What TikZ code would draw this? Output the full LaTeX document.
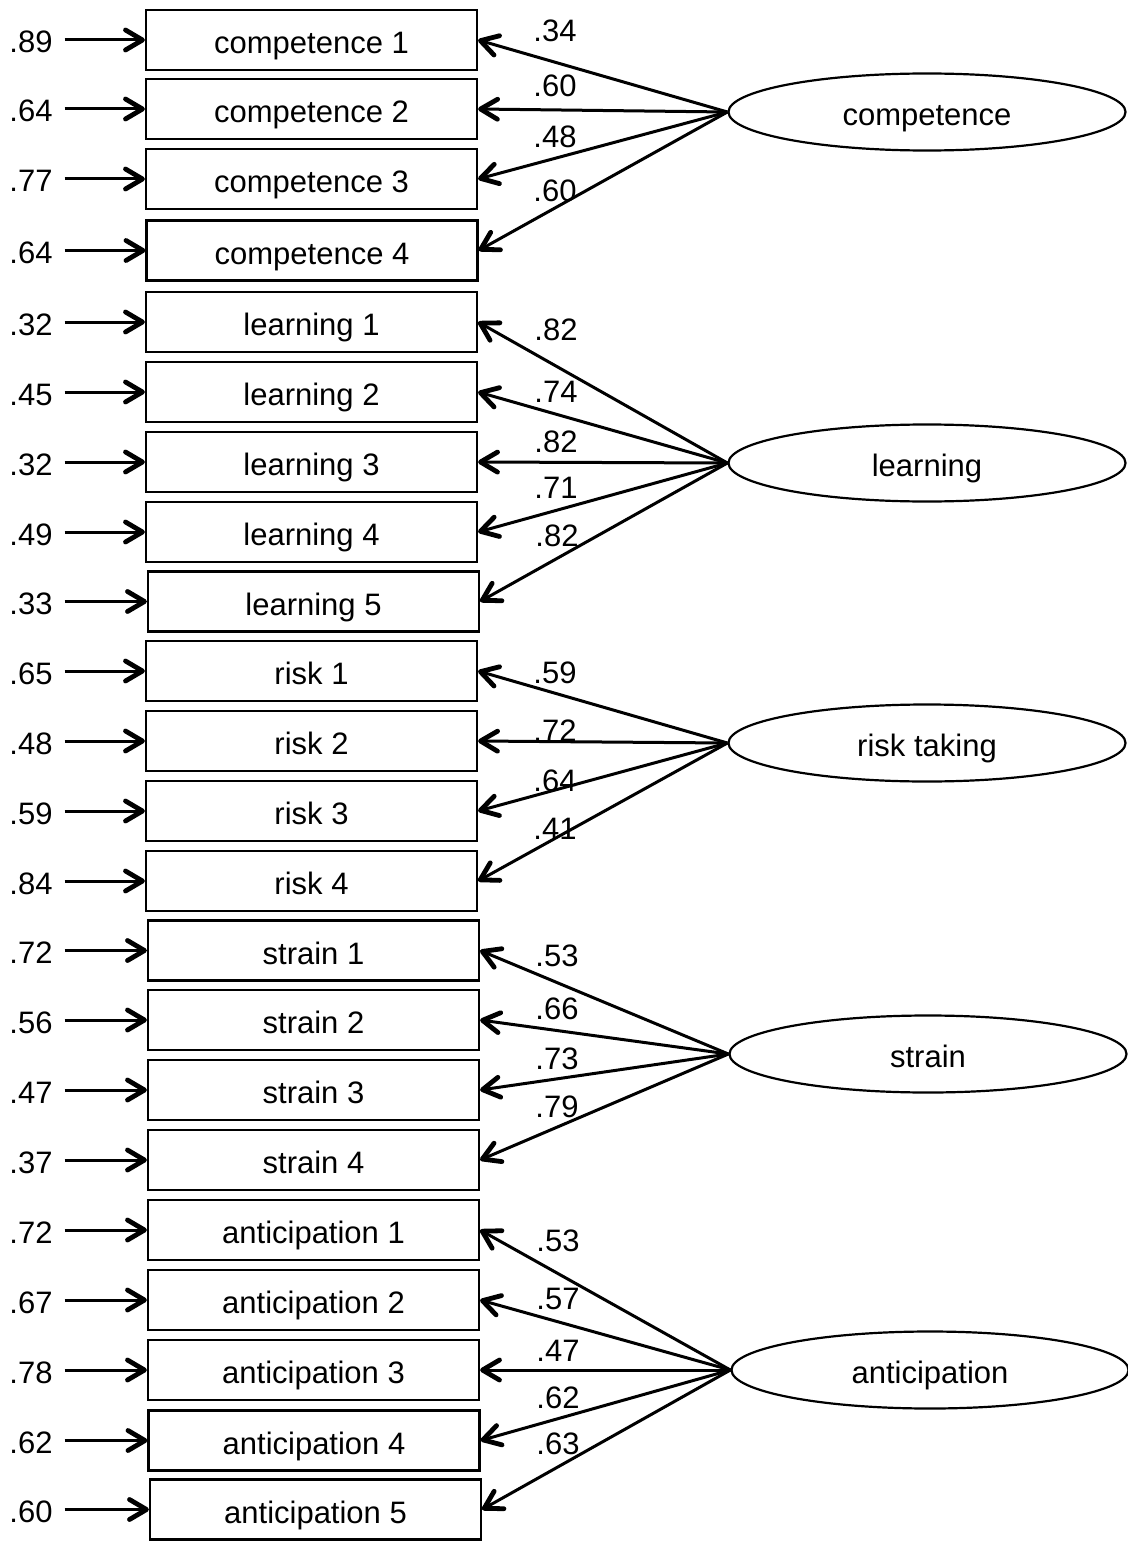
\documentclass[tikz,border=0pt]{standalone}
\usepackage{fontspec}
\setmainfont{Liberation Sans}
\usetikzlibrary{shapes.geometric,arrows.meta}

\begin{document}
\begin{tikzpicture}[x=1pt,y=-1pt,
  txt/.style={font=\fontsize{31}{36}\selectfont, text height=27pt, text depth=0pt},
  item/.style={txt, draw, line width=2.2pt, minimum width=331pt, minimum height=60pt, inner sep=0pt},
  factor/.style={txt, draw, ellipse, line width=2.2pt, minimum width=397pt, minimum height=77pt, inner sep=0pt},
  errlabel/.style={txt, text height=26pt, inner xsep=12pt, inner ysep=0pt},
  wlabel/.style={txt, text height=22pt, inner sep=0pt},
  path arrow/.style={line width=3pt, -{Straight Barb[length=17pt,width=20pt,line width=4.8pt,round]}}
]
\useasboundingbox (0,0) rectangle (1127,1541);

% observed indicators: name / centre x / centre y / text / residual variance
\foreach \i/\cx/\cy/\t/\e in {
  1/311.5/40/competence 1/.89,
  2/311.5/109/competence 2/.64,
  3/311.5/179/competence 3/.77,
  4/312/250.5/competence 4/.64,
  5/311.5/322/learning 1/.32,
  6/311.5/392/learning 2/.45,
  7/311.5/462/learning 3/.32,
  8/311.5/532/learning 4/.49,
  9/313.5/601.5/learning 5/.33,
  10/311.5/671/risk 1/.65,
  11/311.5/741/risk 2/.48,
  12/311.5/811/risk 3/.59,
  13/311.5/881/risk 4/.84,
  14/313.5/950.5/strain 1/.72,
  15/313.5/1020/strain 2/.56,
  16/313.5/1090/strain 3/.47,
  17/313.5/1160/strain 4/.37,
  18/313.5/1230/anticipation 1/.72,
  19/313.5/1300/anticipation 2/.67,
  20/313.5/1370/anticipation 3/.78,
  21/314/1440.5/anticipation 4/.62,
  22/315.5/1509.5/anticipation 5/.60}
{
  \node[item] (b\i) at (\cx,\cy) {\t};
  \node[errlabel] (e\i) at (31,\cy) {\e};
  \draw[path arrow] (e\i) -- (b\i);
}

% latent factors
\node[factor] (f1) at (927,112)  {competence};
\node[factor] (f2) at (927,463)  {learning};
\node[factor] (f3) at (927,743)  {risk taking};
\node[factor] (f4) at (928,1054) {strain};
\node[factor] (f5) at (930,1370) {anticipation};

% factor loadings: factor / indicator / label x / label y / value
\foreach \f/\i/\lx/\ly/\w in {
  1/1/555/31/.34, 1/2/555/86/.60, 1/3/555/137/.48, 1/4/555/190/.60,
  2/5/556/329/.82, 2/6/556/391/.74, 2/7/556/441/.82, 2/8/556/487/.71, 2/9/557/535/.82,
  3/10/555/672/.59, 3/11/555/730/.72, 3/12/555/780/.64, 3/13/555/828/.41,
  4/14/557/955/.53, 4/15/557/1008/.66, 4/16/557/1058/.73, 4/17/557/1106/.79,
  5/18/558/1240/.53, 5/19/558/1298/.57, 5/20/558/1350/.47, 5/21/558/1397/.62, 5/22/558/1443/.63}
{
  \draw[path arrow] (f\f.west) -- (b\i.east);
  \node[wlabel] (w\i) at (\lx,\ly) {\w};
}
\end{tikzpicture}
\end{document}
